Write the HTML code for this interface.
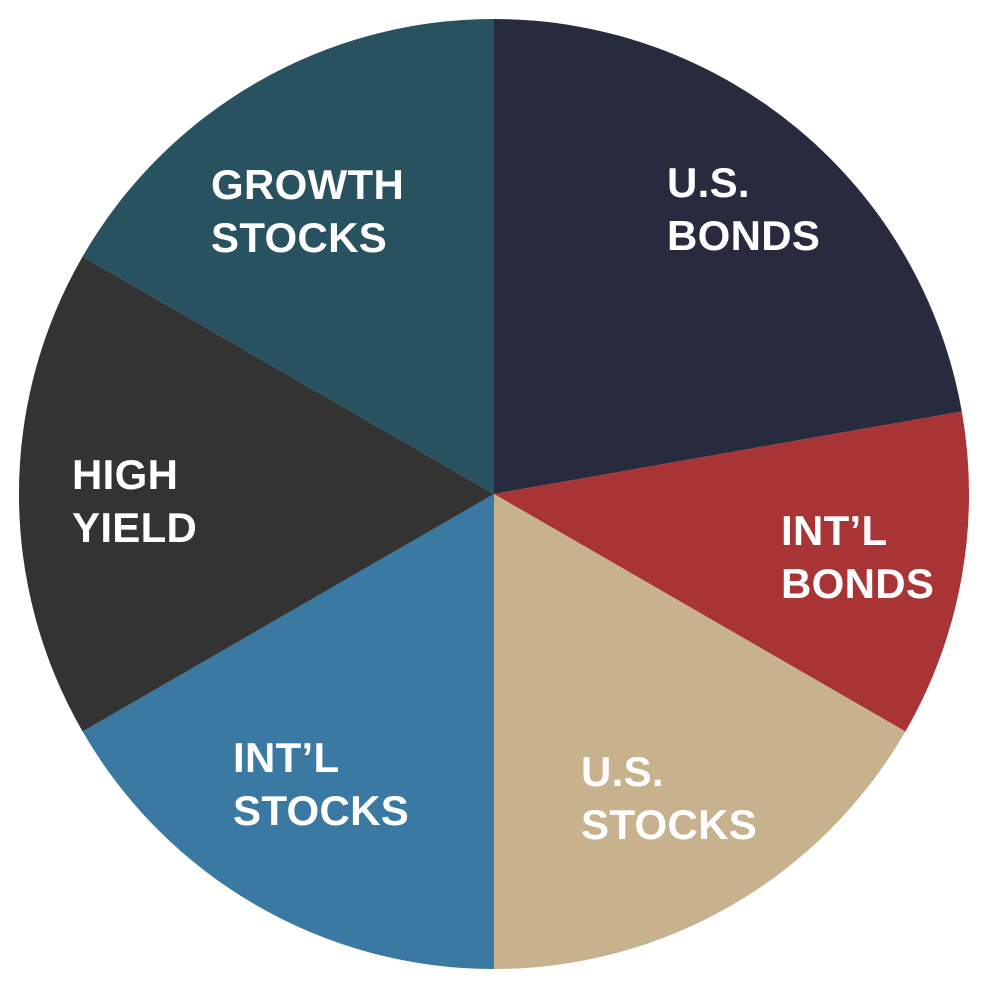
<!DOCTYPE html>
<html><head><meta charset="utf-8"><style>
html,body{margin:0;padding:0;background:#fff;}
svg{display:block;}
text{font-family:"Liberation Sans",sans-serif;font-weight:bold;font-size:42px;fill:#fff;letter-spacing:0.3px;}
</style></head><body>
<svg width="1000" height="1000" viewBox="0 0 1000 1000">
<path d="M494,494 L494,19 A475,475 0 0 1 961.8,411.5 Z" fill="#282b3e"/>
<path d="M494,494 L961.8,411.5 A475,475 0 0 1 905.4,731.5 Z" fill="#a83435"/>
<path d="M494,494 L905.4,731.5 A475,475 0 0 1 494,969 Z" fill="#c8b28e"/>
<path d="M494,494 L494,969 A475,475 0 0 1 82.6,731.5 Z" fill="#3a79a2"/>
<path d="M494,494 L82.6,731.5 A475,475 0 0 1 82.6,256.5 Z" fill="#333333"/>
<path d="M494,494 L82.6,256.5 A475,475 0 0 1 494,19 Z" fill="#28525f"/>
<text x="667" y="197">U.S.</text><text x="667" y="250">BONDS</text>
<text x="781" y="545">INT’L</text><text x="781" y="598">BONDS</text>
<text x="581" y="786">U.S.</text><text x="581" y="839">STOCKS</text>
<text x="233" y="772">INT’L</text><text x="233" y="825">STOCKS</text>
<text x="72" y="489">HIGH</text><text x="72" y="542">YIELD</text>
<text x="211" y="199">GROWTH</text><text x="211" y="252">STOCKS</text>
</svg>
</body></html>
